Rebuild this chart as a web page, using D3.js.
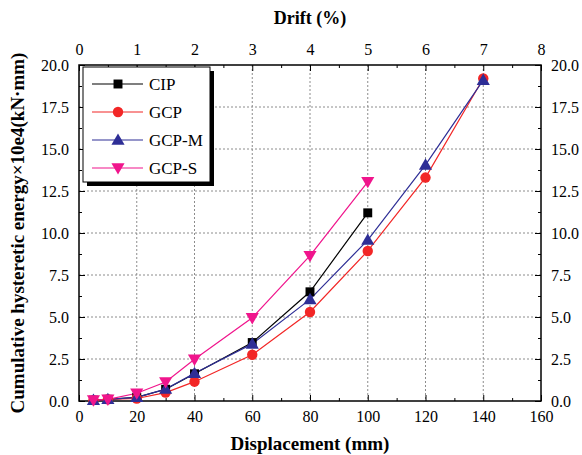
<!DOCTYPE html>
<html><head><meta charset="utf-8">
<script src="https://cdn.jsdelivr.net/npm/d3@7"></script>
<style>body{margin:0;background:#fff}svg{display:block}text{font-family:"Liberation Serif","Times New Roman",serif}</style>
</head><body><svg id="c" width="582" height="455"></svg>
<script>
const dispCIP = [5,10,20,30,40,60,80,100];
const energyCIP = [0.05,0.1,0.22,0.7,1.62,3.48,6.5,11.2];
const dispGCP = [5,10,20,30,40,60,80,100,120,140];
const energyGCP = [0.05,0.1,0.15,0.5,1.15,2.75,5.3,8.93,13.3,19.2];
const dispGCPM = [5,10,20,30,40,60,80,100,120,140];
const energyGCPM = [0.05,0.1,0.22,0.71,1.65,3.4,6.05,9.58,14.05,19.1];
const dispGCPS = [5,10,20,30,40,60,80,100];
const energyGCPS = [0.05,0.1,0.46,1.13,2.48,4.95,8.65,13.05];
const seriesNames = ["CIP","GCP","GCP-M","GCP-S"];
const xTicks = [0,20,40,60,80,100,120,140,160];
const driftTicks = [0,1,2,3,4,5,6,7,8];
const yTicks = [0,2.5,5,7.5,10,12.5,15,17.5,20];

const series = [
  {name:seriesNames[0], xs:dispCIP, ys:energyCIP, color:"#000000", sym:"square"},
  {name:seriesNames[1], xs:dispGCP, ys:energyGCP, color:"#f22626", sym:"circle"},
  {name:seriesNames[2], xs:dispGCPM, ys:energyGCPM, color:"#2e2e96", sym:"up"},
  {name:seriesNames[3], xs:dispGCPS, ys:energyGCPS, color:"#f0158c", sym:"down"}
];

const svg = d3.select("#c");
const L=79, R=541, T=65, B=401;
const x = d3.scaleLinear().domain([0,160]).range([L,R]);
const xd = d3.scaleLinear().domain([0,8]).range([L,R]);
const y = d3.scaleLinear().domain([0,20]).range([B,T]);

// grid
const g = svg.append("g");
g.selectAll("line.vg").data(xTicks.filter(d=>d>0&&d<160)).enter().append("line")
 .attr("x1",d=>x(d)).attr("x2",d=>x(d)).attr("y1",T).attr("y2",B)
 .attr("stroke","#8c8c8c").attr("stroke-width",1).attr("stroke-dasharray","2,2");
g.selectAll("line.hg").data(yTicks.filter(d=>d>0&&d<20)).enter().append("line")
 .attr("y1",d=>y(d)).attr("y2",d=>y(d)).attr("x1",L).attr("x2",R)
 .attr("stroke","#8c8c8c").attr("stroke-width",1).attr("stroke-dasharray","2,2");

// axes
function styleAxis(sel){
  sel.select(".domain").remove();
  sel.selectAll("text").attr("font-size","16px").attr("fill","#000");
  sel.selectAll("line").attr("stroke","#000").attr("stroke-width",1);
}
const minorX = d3.range(10,160,20);
const minorY = d3.range(1.25,20,2.5);
const minorD = d3.range(0.5,8,1);

const bx = svg.append("g").attr("transform",`translate(0,${B})`)
  .call(d3.axisBottom(x).tickValues(xTicks).tickSize(-6).tickPadding(10).tickFormat(d3.format("d")));
styleAxis(bx);
svg.append("g").attr("transform",`translate(0,${B})`)
  .call(d3.axisBottom(x).tickValues(minorX).tickSize(-3).tickFormat("")).call(styleAxis);

const tx = svg.append("g").attr("transform",`translate(0,${T})`)
  .call(d3.axisTop(xd).tickValues(driftTicks).tickSize(-6).tickPadding(10).tickFormat(d3.format("d")));
styleAxis(tx);
svg.append("g").attr("transform",`translate(0,${T})`)
  .call(d3.axisTop(xd).tickValues(minorD).tickSize(-3).tickFormat("")).call(styleAxis);

const ly = svg.append("g").attr("transform",`translate(${L},0)`)
  .call(d3.axisLeft(y).tickValues(yTicks).tickSize(-6).tickPadding(10).tickFormat(d3.format(".1f")));
styleAxis(ly);
svg.append("g").attr("transform",`translate(${L},0)`)
  .call(d3.axisLeft(y).tickValues(minorY).tickSize(-3).tickFormat("")).call(styleAxis);

const ry = svg.append("g").attr("transform",`translate(${R},0)`)
  .call(d3.axisRight(y).tickValues(yTicks).tickSize(-6).tickPadding(10).tickFormat(d3.format(".1f")));
styleAxis(ry);
svg.append("g").attr("transform",`translate(${R},0)`)
  .call(d3.axisRight(y).tickValues(minorY).tickSize(-3).tickFormat("")).call(styleAxis);

// frame
svg.append("rect").attr("x",L).attr("y",T).attr("width",R-L).attr("height",B-T)
  .attr("fill","none").attr("stroke","#000").attr("stroke-width",1.5);

const symType = {square:d3.symbolSquare, circle:d3.symbolCircle, up:d3.symbolTriangle, down:d3.symbolTriangle};
const symSize = {square:80, circle:85, up:75, down:75};
function marker(sel, s){
  sel.attr("d", d3.symbol().type(symType[s.sym]).size(symSize[s.sym])())
    .attr("fill", s.color);
}

// lines & points
series.forEach(s=>{
  const pts = s.xs.map((v,i)=>[v,s.ys[i]]);
  svg.append("path").datum(pts)
    .attr("d", d3.line().x(d=>x(d[0])).y(d=>y(d[1])))
    .attr("fill","none").attr("stroke",s.color).attr("stroke-width",1.2);
});
series.forEach(s=>{
  const pts = s.xs.map((v,i)=>[v,s.ys[i]]);
  svg.append("g").selectAll("path").data(pts).enter().append("path")
    .each(function(){ marker(d3.select(this), s); })
    .attr("transform", d=>`translate(${x(d[0])},${y(d[1])+(s.sym==="up"?1:(s.sym==="down"?-1:0))})${s.sym==="down"?" rotate(180)":""}`);
});

// legend
const lg = svg.append("g");
lg.append("rect").attr("x",87).attr("y",71).attr("width",127).attr("height",115).attr("fill","#000");
lg.append("rect").attr("x",83).attr("y",67).attr("width",127).attr("height",115)
  .attr("fill","#fff").attr("stroke","#000").attr("stroke-width",1);
series.forEach((s,i)=>{
  const yy = 84 + i*28;
  lg.append("line").attr("x1",92).attr("x2",143).attr("y1",yy).attr("y2",yy)
    .attr("stroke",s.color).attr("stroke-width",1.2);
  lg.append("path").each(function(){ marker(d3.select(this), s); })
    .attr("transform",`translate(118,${yy+(s.sym==="up"?1:(s.sym==="down"?-1:0))})${s.sym==="down"?" rotate(180)":""}`);
  lg.append("text").attr("x",149).attr("y",yy+6).attr("font-size","17px").text(s.name);
});

// titles
svg.append("text").attr("x",(L+R)/2).attr("y",24).attr("text-anchor","middle")
  .attr("font-size","18px").attr("font-weight","bold").text("Drift (%)");
svg.append("text").attr("x",(L+R)/2).attr("y",450).attr("text-anchor","middle")
  .attr("font-size","19px").attr("font-weight","bold").text("Displacement (mm)");
svg.append("text").attr("transform",`translate(24,${(T+B)/2}) rotate(-90)`).attr("text-anchor","middle")
  .attr("font-size","19px").attr("font-weight","bold").text("Cumulative hysteretic energy×10e4(kN·mm)");
</script></body></html>
